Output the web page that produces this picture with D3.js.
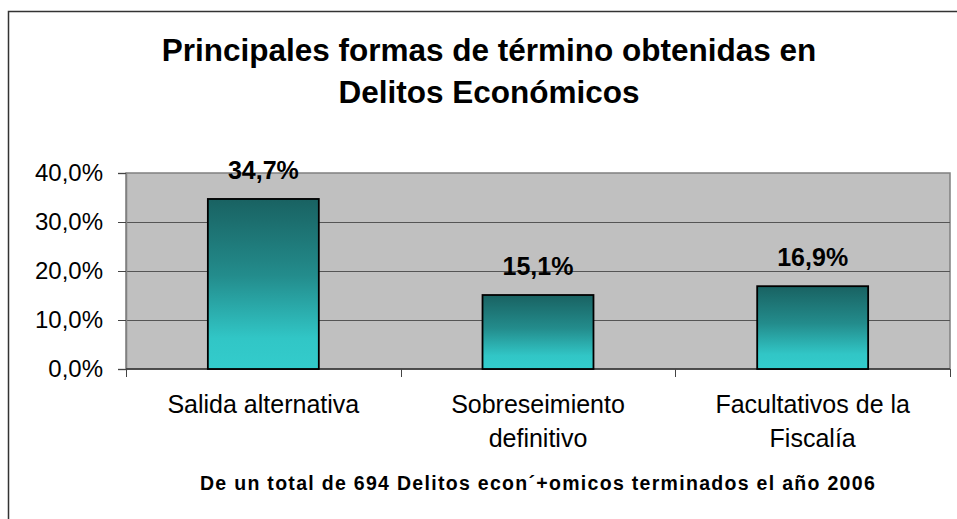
<!DOCTYPE html>
<html>
<head>
<meta charset="utf-8">
<script src="https://cdn.jsdelivr.net/npm/d3@7"></script>
<style>
  body { margin: 0; background: #fff; }
  svg { display: block; font-family: Arial, "Liberation Sans", sans-serif; }
</style>
</head>
<body>
<div id="chart"></div>
<script>
// data
const categories = [["Salida alternativa"], ["Sobreseimiento", "definitivo"], ["Facultativos de la", "Fiscalía"]];
const values = [34.7, 15.1, 16.9];
const yTicks = [0, 10, 20, 30, 40];
const titleLines = ["Principales formas de término obtenidas en", "Delitos Económicos"];
const footer = "De un total de 694 Delitos econ´+omicos terminados el año 2006";

const width = 957, height = 519,
  margin = ({ top: 173, right: 7, bottom: 150, left: 126 });

const svg = d3.select("#chart")
  .append("svg")
  .attr("width", width)
  .attr("height", height);

// gradient for the bars
const grad = svg.append("defs").append("linearGradient")
  .attr("id", "barGrad")
  .attr("x1", 0).attr("y1", 0).attr("x2", 0).attr("y2", 1);
grad.append("stop").attr("offset", "0%").attr("stop-color", "#196262");
grad.append("stop").attr("offset", "45%").attr("stop-color", "#238c8c");
grad.append("stop").attr("offset", "82%").attr("stop-color", "#31c6c6");
grad.append("stop").attr("offset", "100%").attr("stop-color", "#33cccc");

// outer frame (right and bottom fall outside the picture)
svg.append("path")
  .attr("d", `M8.5,${height + 5}V11.5H${width + 5}`)
  .attr("fill", "none")
  .attr("stroke", "#333")
  .attr("stroke-width", 1.5);

const x = d3.scaleBand()
  .domain(d3.range(values.length))
  .range([margin.left, width - margin.right])
  .paddingInner(0.596)
  .paddingOuter(0.298);

const xAxisScale = d3.scaleBand()
  .domain(d3.range(values.length))
  .range([margin.left, width - margin.right]);

const y = d3.scaleLinear()
  .domain([0, 40])
  .range([height - margin.bottom, margin.top]);

// plot background
svg.append("rect")
  .attr("x", margin.left)
  .attr("y", margin.top)
  .attr("width", width - margin.right - margin.left)
  .attr("height", y(0) - margin.top)
  .attr("fill", "#c0c0c0")
  .attr("stroke", "#808080")
  .attr("stroke-width", 1.5);

// grid lines
svg.append("g")
  .selectAll("line")
  .data(yTicks.filter(d => d > 0 && d < 40))
  .join("line")
  .attr("x1", margin.left)
  .attr("x2", width - margin.right)
  .attr("y1", d => Math.round(y(d)) + 0.5)
  .attr("y2", d => Math.round(y(d)) + 0.5)
  .attr("stroke", "#555")
  .attr("stroke-width", 1);

// y axis
const yAxis = svg.append("g")
  .attr("transform", `translate(${margin.left},0)`)
  .call(d3.axisLeft(y)
    .tickValues(yTicks)
    .tickSize(8)
    .tickPadding(15)
    .tickFormat(d => d.toFixed(1).replace(".", ",") + "%"));
yAxis.select(".domain").attr("stroke", "#808080").attr("stroke-width", 1.5);
yAxis.selectAll(".tick line").attr("stroke", "#444");
yAxis.selectAll(".tick text")
  .attr("font-size", 24)
  .attr("font-family", "Arial, 'Liberation Sans', sans-serif")
  .attr("fill", "#000");

// x axis line + ticks at category boundaries
const bounds = d3.range(values.length + 1).map(i =>
  i < values.length ? xAxisScale(i) : xAxisScale(i - 1) + xAxisScale.bandwidth());
svg.append("line")
  .attr("x1", margin.left)
  .attr("x2", width - margin.right)
  .attr("y1", y(0))
  .attr("y2", y(0))
  .attr("stroke", "#333")
  .attr("stroke-width", 1.5);
svg.append("g")
  .selectAll("line")
  .data(bounds)
  .join("line")
  .attr("x1", d => Math.round(d) + 0.5)
  .attr("x2", d => Math.round(d) + 0.5)
  .attr("y1", y(0))
  .attr("y2", y(0) + 8)
  .attr("stroke", "#444");

// bars
svg.append("g")
  .selectAll("rect")
  .data(values)
  .join("rect")
  .attr("x", (d, i) => x(i))
  .attr("y", d => y(d))
  .attr("width", x.bandwidth())
  .attr("height", d => y(0) - y(d))
  .attr("fill", "url(#barGrad)")
  .attr("stroke", "#000")
  .attr("stroke-width", 1.8);

// value labels
svg.append("g")
  .selectAll("text")
  .data(values)
  .join("text")
  .attr("x", (d, i) => x(i) + x.bandwidth() / 2)
  .attr("y", d => y(d) - 20)
  .attr("text-anchor", "middle")
  .attr("font-size", 25)
  .attr("font-weight", "bold")
  .text(d => d.toFixed(1).replace(".", ",") + "%");

// category labels
const cat = svg.append("g")
  .selectAll("text")
  .data(categories)
  .join("text")
  .attr("text-anchor", "middle")
  .attr("font-size", 25);
cat.selectAll("tspan")
  .data((d, i) => d.map(t => ({ t, i })))
  .join("tspan")
  .attr("x", d => xAxisScale(d.i) + xAxisScale.bandwidth() / 2)
  .attr("y", (d, j) => 413 + j * 34)
  .text(d => d.t);

// title
svg.append("g")
  .selectAll("text")
  .data(titleLines)
  .join("text")
  .attr("x", 489)
  .attr("y", (d, i) => 61 + i * 42)
  .attr("text-anchor", "middle")
  .attr("font-size", 31.5)
  .attr("font-weight", "bold")
  .text(d => d);

// footer note (x axis title, centred on the plot)
svg.append("text")
  .attr("x", (margin.left + width - margin.right) / 2)
  .attr("y", 490)
  .attr("text-anchor", "middle")
  .attr("font-size", 19.5)
  .attr("font-weight", "bold")
  .attr("letter-spacing", 1.3)
  .text(footer);
</script>
</body>
</html>
